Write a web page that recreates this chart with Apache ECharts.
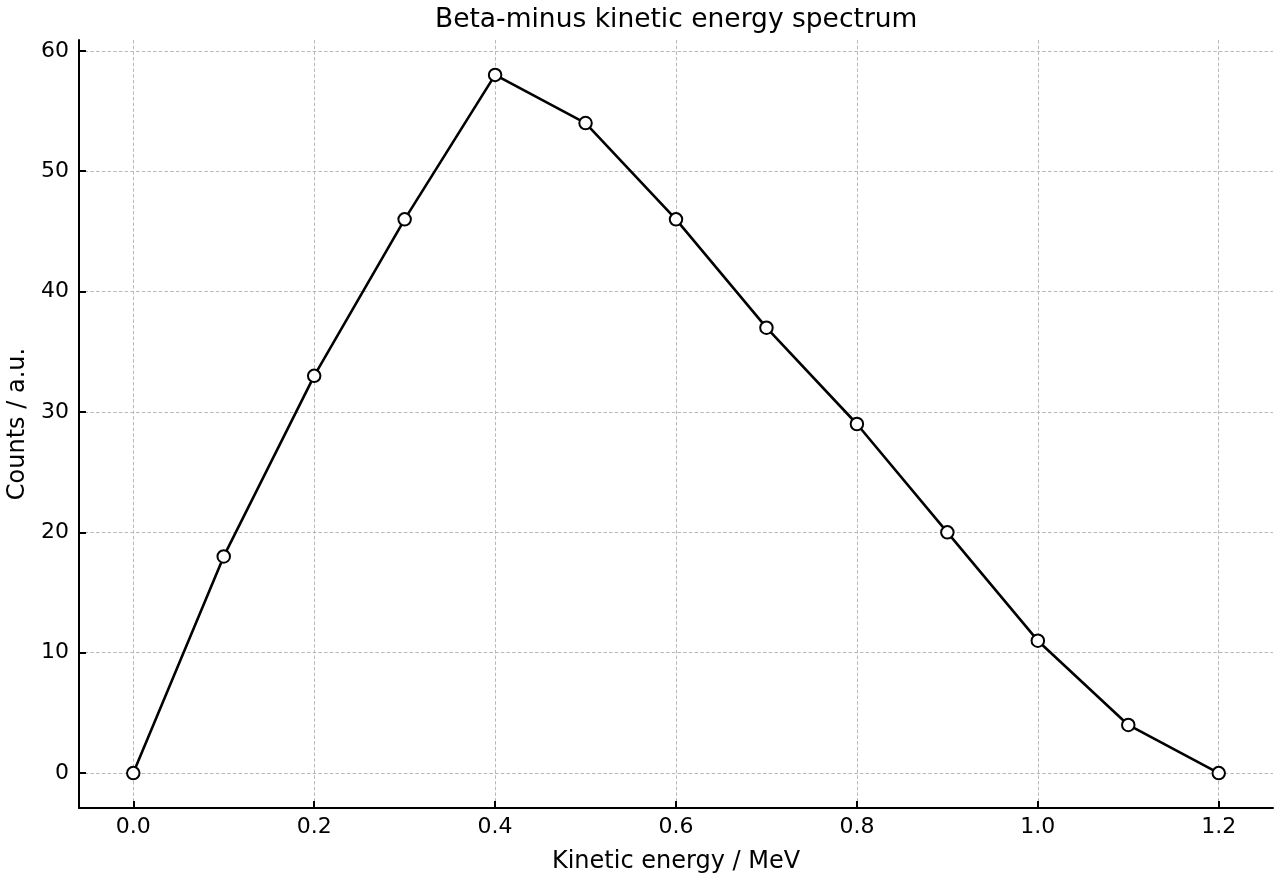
<!DOCTYPE html>
<html>
<head>
<meta charset="utf-8">
<script src="https://cdn.jsdelivr.net/npm/echarts@6/dist/echarts.min.js"></script>
<style>
  html, body { margin: 0; padding: 0; background: #fff; }
  #chart { width: 1280px; height: 880px; }
</style>
</head>
<body>
<div id="chart"></div>
<script>
// beta-minus spectrum, values
const energies = [0.0, 0.1, 0.2, 0.3, 0.4, 0.5, 0.6, 0.7, 0.8, 0.9, 1.0, 1.1, 1.2];
const counts = [0, 18, 33, 46, 58, 54, 46, 37, 29, 20, 11, 4, 0];
const xTicks = [0.0, 0.2, 0.4, 0.6, 0.8, 1.0, 1.2];
const yTicks = [0, 10, 20, 30, 40, 50, 60];

const font = 'DejaVu Sans';
const chart = echarts.init(document.getElementById('chart'));

const axisCommon = {
    axisLine: { onZero: false, lineStyle: { color: '#000', width: 2 } },
    axisTick: { inside: true, length: 7, lineStyle: { color: '#000', width: 2 } },
    splitLine: { show: true, lineStyle: { color: '#b8b8b8', type: [3.5, 2.2], width: 1 } },
    nameLocation: 'middle',
    nameTextStyle: { fontFamily: font, fontSize: 24, color: '#000' }
};

chart.setOption({
    animation: false,
    backgroundColor: '#fff',
    // title is centred over the plot area, not the page
    title: {
        text: 'Beta-minus kinetic energy spectrum',
        left: 430, top: 2,
        textStyle: { fontFamily: font, fontSize: 26.5, fontWeight: 'normal', color: '#000' }
    },
    grid: { left: 79, right: 7, top: 40, bottom: 72, containLabel: false, outerBoundsMode: 'none' },
    xAxis: Object.assign({}, axisCommon, {
        type: 'value',
        min: -0.06, max: 1.26,
        name: 'Kinetic energy / MeV',
        nameGap: 42,
        axisTick: Object.assign({}, axisCommon.axisTick, { customValues: xTicks }),
        axisLabel: {
            customValues: xTicks, margin: 8,
            fontFamily: font, fontSize: 22, color: '#000',
            formatter: v => v.toFixed(1)
        }
    }),
    yAxis: Object.assign({}, axisCommon, {
        type: 'value',
        min: -2.9, max: 60.9,
        name: 'Counts / a.u.',
        nameGap: 49,
        axisTick: Object.assign({}, axisCommon.axisTick, { customValues: yTicks }),
        axisLabel: {
            customValues: yTicks, margin: 10,
            fontFamily: font, fontSize: 22, color: '#000'
        }
    }),
    series: [{
        type: 'line',
        data: energies.map((e, i) => [e, counts[i]]),
        lineStyle: { color: '#000', width: 2.6 },
        symbol: 'circle',
        symbolSize: 12.5,
        itemStyle: { color: '#fff', borderColor: '#000', borderWidth: 2 }
    }]
});
</script>
</body>
</html>
